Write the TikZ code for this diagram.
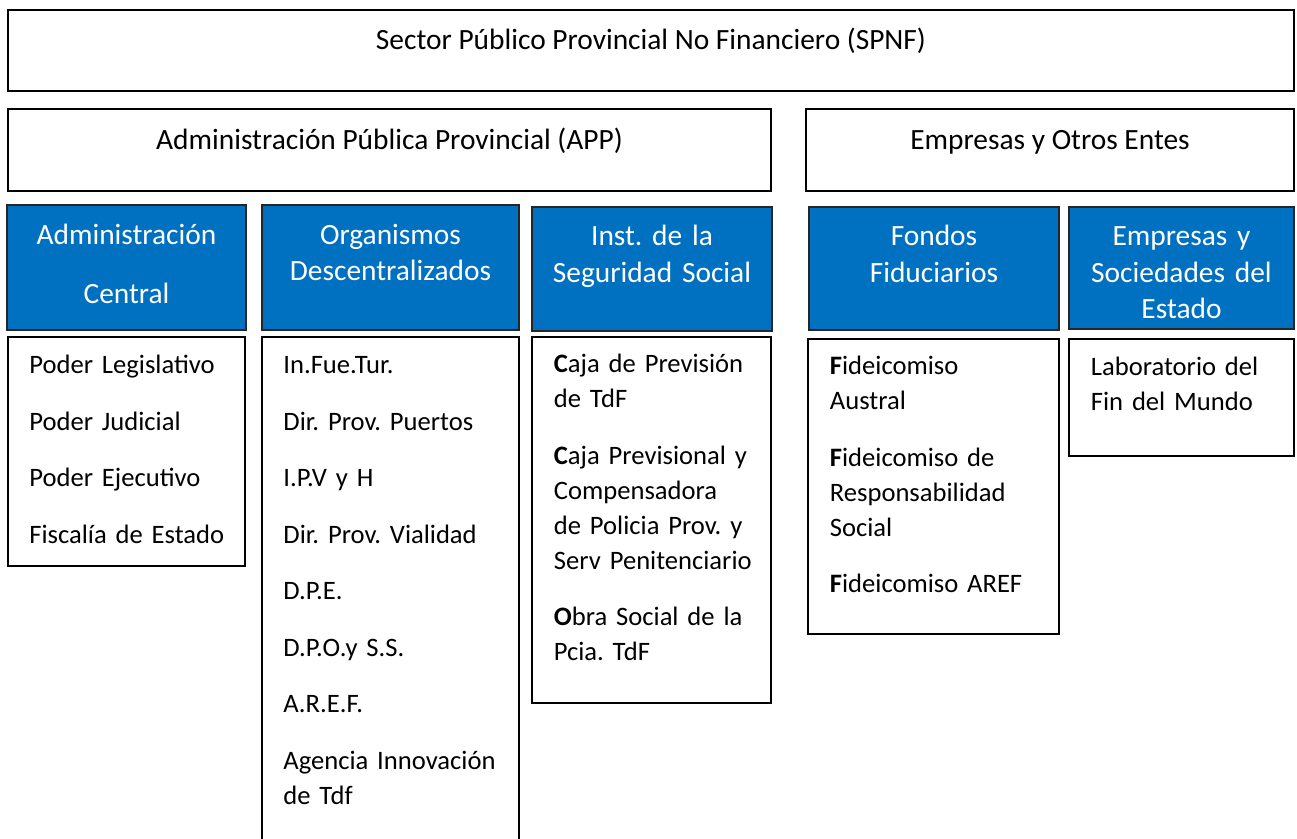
\documentclass[tikz,border=0pt]{standalone}
\usepackage{fontspec}
\setmainfont{Carlito}
\definecolor{appblue}{HTML}{0070C0}
\newcommand\listfont{\fontsize{13.3pt}{17.5pt}\selectfont}
\newcommand\headfont{\fontsize{14.7pt}{18.25pt}\selectfont}
\frenchspacing

\begin{document}
\begin{tikzpicture}[x=0.5pt, y=-0.5pt,
  plainbox/.style={draw, line width=1pt, anchor=north west, inner sep=0, outer sep=0},
  bluebox/.style={draw=black!85, line width=0.8pt, fill=appblue, anchor=north west, inner sep=0, outer sep=0},
  boxsize/.style 2 args={minimum width=#1*0.5pt, minimum height=#2*0.5pt},
  toptext/.style={font=\headfont, anchor=base, inner sep=0},
  headtext/.style={text=white, font=\headfont, align=center, text width=115pt, anchor=base, inner sep=0},
  listtext/.style={font=\listfont, align=left, text width=115pt, anchor=base west, inner sep=0}]
\useasboundingbox (0,0) rectangle (1297,839);

% upper levels
\node[plainbox, boxsize={1286}{81}] at (8,10) (spnf) {} ;
\node[plainbox, boxsize={763}{82}] at (8,109) (app) {} ;
\node[plainbox, boxsize={488}{82}] at (806,109) (entes) {} ;
\node[toptext] at (651,50) (spnftxt) {Sector Público Provincial No Financiero (SPNF)} ;
\node[toptext] at (389.5,150) (apptxt) {Administración Pública Provincial (APP)} ;
\node[toptext] at (1050,150) (entestxt) {Empresas y Otros Entes} ;

% blue headers
\node[bluebox, boxsize={239}{125}] at (7,205) (central) {} ;
\node[bluebox, boxsize={257}{125}] at (262,205) (descent) {} ;
\node[bluebox, boxsize={240}{124}] at (532,207) (segsoc) {} ;
\node[bluebox, boxsize={250}{123}] at (809,207) (fondos) {} ;
\node[bluebox, boxsize={225}{122}] at (1069,207) (empsoc) {} ;
\node[headtext] at (126.5,244.5) (centraltxt) {Administración\\[11.25pt]Central} ;
\node[headtext] at (390.5,244.5) (descenttxt) {Organismos\\Descentralizados} ;
\node[headtext] at (652,246) (segsoctxt) {Inst. de la\\Seguridad Social} ;
\node[headtext] at (934,246) (fondostxt) {Fondos\\Fiduciarios} ;
\node[headtext] at (1181.5,246) (empsoctxt) {Empresas y\\Sociedades del\\Estado} ;

% lists
\node[plainbox, boxsize={237}{229}] at (8,337) (centrallist) {} ;
\node[plainbox, boxsize={257}{520}] at (262,337) (descentlist) {} ;
\node[plainbox, boxsize={239}{366}] at (532,337) (segsoclist) {} ;
\node[plainbox, boxsize={251}{295}] at (808,339) (fondoslist) {} ;
\node[plainbox, boxsize={225}{117}] at (1069,339) (empsoclist) {} ;

\node[listtext] at (29,374) (centralitems) {Poder Legislativo\\[10.75pt]Poder Judicial\\[10.75pt]Poder Ejecutivo\\[10.75pt]Fiscalía de Estado} ;
\node[listtext] at (283,374) (descentitems) {In.Fue.Tur.\\[10.75pt]Dir. Prov. Puertos\\[10.75pt]I.P.V y H\\[10.75pt]Dir. Prov. Vialidad\\[10.75pt]D.P.E.\\[10.75pt]D.P.O.y S.S.\\[10.75pt]A.R.E.F.\\[10.75pt]Agencia Innovación\\de Tdf} ;
\node[listtext] at (553.5,373) (segsocitems) {\textbf{C}aja de Previsión\\de TdF\\[10.75pt]\textbf{C}aja Previsional y\\Compensadora\\de Policia Prov. y\\Serv Penitenciario\\[10.75pt]\textbf{O}bra Social de la\\Pcia. TdF} ;
\node[listtext] at (829.5,375) (fondositems) {\textbf{F}ideicomiso\\Austral\\[10.75pt]\textbf{F}ideicomiso de\\Responsabilidad\\Social\\[10.75pt]\textbf{F}ideicomiso AREF} ;
\node[listtext] at (1090.5,375.5) (empsocitems) {Laboratorio del\\Fin del Mundo} ;
\end{tikzpicture}
\end{document}
